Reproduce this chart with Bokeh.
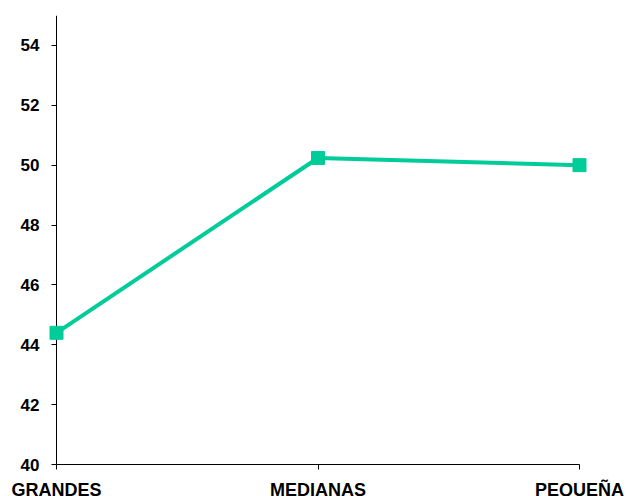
from bokeh.plotting import figure
from bokeh.models import Range1d, FixedTicker, Span
from bokeh.embed import file_html
from bokeh.resources import INLINE

categories = ["GRANDES", "MEDIANAS", "PEQUEÑA"]
values = [44.4, 50.24, 50.0]
y_ticks = [40, 42, 44, 46, 48, 50, 52, 54]

xs = list(range(len(categories)))
pad = 8 / 261.5

p = figure(frame_width=539, frame_height=449, output_backend="svg", toolbar_location=None,
           x_range=Range1d(-pad, len(categories) - 1 + pad), y_range=Range1d(40, 55),
           min_border_left=48, min_border_right=39, min_border_top=15, min_border_bottom=20)
p.outline_line_color = None
p.xgrid.visible = False
p.ygrid.visible = False
p.background_fill_color = "white"
p.border_fill_color = "white"

# vertical axis line at the first category
p.add_layout(Span(location=0, dimension="height", line_color="black", line_width=1, level="underlay"))

color = "#00CC99"
p.line(xs, values, line_color=color, line_width=4)
p.scatter(xs, values, marker="square", size=13, fill_color=color, line_color=color)

for ax in (p.xaxis[0], p.yaxis[0]):
    ax.axis_line_color = "black"
    ax.axis_line_width = 1
    ax.major_tick_line_color = "black"
    ax.minor_tick_line_color = None
    ax.major_label_text_font = "Liberation Sans"
    ax.major_label_text_font_style = "bold"
    ax.major_label_text_color = "black"

xa = p.xaxis[0]
xa.ticker = FixedTicker(ticks=xs)
xa.major_label_overrides = {i: c for i, c in zip(xs, categories)}
xa.major_tick_in = 0
xa.major_tick_out = 5
xa.major_label_standoff = 10
xa.major_label_text_font_size = "18px"
xa.bounds = (0, len(categories) - 1)

ya = p.yaxis[0]
ya.ticker = FixedTicker(ticks=y_ticks)
ya.axis_line_color = None
ya.major_tick_in = 8
ya.major_tick_out = -3
ya.major_label_standoff = 9
ya.major_label_text_font_size = "17px"

open("out.html", "w").write(file_html(p, INLINE))
